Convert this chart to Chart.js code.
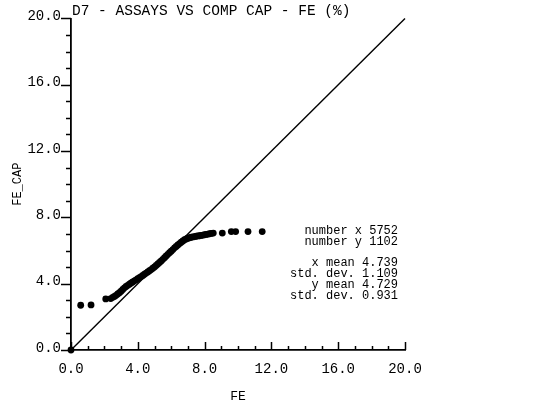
<!DOCTYPE html>
<html>
<head>
<meta charset="utf-8">
<script src="https://cdn.jsdelivr.net/npm/chart.js@4.4.0/dist/chart.umd.min.js"></script>
<style>
  html, body { margin: 0; padding: 0; background: #fff; }
  #wrap { width: 559px; height: 410px; }
</style>
</head>
<body>
<div id="wrap"><canvas id="chart" width="559" height="410"></canvas></div>
<script>
// ── Data ──────────────────────────────────────
const chartTitle = 'D7 - ASSAYS VS COMP CAP - FE (%)';
const xTitle = 'FE';
const yTitle = 'FE_CAP';

const feValues = [
  0, 0.58, 1.2, 2.08, 2.38, 2.5, 2.6, 2.7, 2.8, 2.9,
  3.0, 3.1, 3.2, 3.3, 3.4, 3.5, 3.6, 3.7, 3.8, 3.9,
  4.0, 4.1, 4.2, 4.3, 4.4, 4.5, 4.6, 4.7, 4.8, 4.9,
  5.0, 5.1, 5.2, 5.3, 5.4, 5.5, 5.6, 5.7, 5.8, 5.9,
  6.0, 6.1, 6.2, 6.3, 6.4, 6.5, 6.6, 6.7, 6.8, 6.9,
  7.0, 7.1, 7.2, 7.3, 7.4, 7.5, 7.6, 7.7, 7.8, 7.9,
  8.0, 8.1, 8.2, 8.3, 8.4, 8.52, 9.06, 9.6, 9.86, 10.6,
  11.45
];
const feCapValues = [
  0, 2.7, 2.72, 3.08, 3.10, 3.18, 3.23, 3.30, 3.38, 3.46,
  3.55, 3.65, 3.75, 3.83, 3.90, 3.97, 4.04, 4.10, 4.17, 4.23,
  4.30, 4.37, 4.43, 4.50, 4.57, 4.64, 4.71, 4.78, 4.85, 4.93,
  5.01, 5.10, 5.19, 5.28, 5.37, 5.47, 5.57, 5.67, 5.77, 5.87,
  5.96, 6.06, 6.16, 6.25, 6.34, 6.42, 6.50, 6.58, 6.65, 6.70,
  6.74, 6.77, 6.80, 6.82, 6.84, 6.86, 6.88, 6.89, 6.91, 6.93,
  6.95, 6.97, 6.99, 7.01, 7.03, 7.05, 7.05, 7.14, 7.14, 7.14,
  7.14
];

const diagonalX = [0, 20];
const diagonalY = [0, 20];

const axisMin = 0;
const axisMax = 20;
const minorStep = 1;
const majorStep = 4;

const statLines = [
  'number x 5752',
  'number y 1102',
  '',
  'x mean 4.739',
  'std. dev. 1.109',
  'y mean 4.729',
  'std. dev. 0.931'
];

// ── Fonts ─────────────────────────────────────
const MONO = '"Liberation Mono", "Courier New", monospace';

// ── Tick marks + texts drawn over the chart ──
const overlay = {
  id: 'overlay',
  afterDraw(chart) {
    const { ctx, chartArea, scales } = chart;
    const xs = scales.x;
    const ys = scales.y;

    ctx.save();
    ctx.strokeStyle = '#000';
    ctx.lineWidth = 1.5;

    // y ticks point outward (left)
    ys.ticks.forEach(t => {
      const y = Math.round(ys.getPixelForValue(t.value)) + 0.5;
      const len = t.value % majorStep === 0 ? 10 : 5;
      ctx.beginPath();
      ctx.moveTo(chartArea.left - len, y);
      ctx.lineTo(chartArea.left, y);
      ctx.stroke();
    });

    // x ticks point inward (up)
    xs.ticks.forEach(t => {
      const x = Math.round(xs.getPixelForValue(t.value)) + 0.5;
      const len = t.value % majorStep === 0 ? 8 : 4;
      ctx.beginPath();
      ctx.moveTo(x, chartArea.bottom);
      ctx.lineTo(x, chartArea.bottom - len);
      ctx.stroke();
    });

    // title
    ctx.fillStyle = '#000';
    ctx.font = '14.5px ' + MONO;
    ctx.textAlign = 'left';
    ctx.textBaseline = 'alphabetic';
    ctx.fillText(chartTitle, chartArea.left + 1, 15);

    // stats block
    ctx.font = '12px ' + MONO;
    ctx.textAlign = 'right';
    let y = 234;
    statLines.forEach(line => {
      if (line) ctx.fillText(line, 398, y);
      y += line ? 11 : 10;
    });

    ctx.restore();
  }
};

// ── Scale options ─────────────────────────────
function scaleOpts(axis) {
  const isY = axis === 'y';
  return {
    type: 'linear',
    min: axisMin,
    max: axisMax,
    grid: { display: false, drawTicks: false },
    border: { display: true, color: '#000', width: 1.8 },
    ticks: {
      stepSize: minorStep,
      autoSkip: false,
      maxRotation: 0,
      color: '#000',
      font: { family: MONO, size: 14 },
      padding: isY ? 10 : 11,
      labelOffset: isY ? -2 : 0,
      callback: v => (v % majorStep === 0 ? v.toFixed(1) : '')
    },
    title: {
      display: true,
      text: isY ? yTitle : xTitle,
      color: '#000',
      font: { family: MONO, size: isY ? 12 : 13 },
      padding: isY ? { top: 11, bottom: 0 } : { top: 0, bottom: 6 }
    },
    afterFit: s => {
      if (isY) s.width = 71;
      else s.height = 60;
    }
  };
}

new Chart(document.getElementById('chart'), {
  type: 'scatter',
  data: {
    datasets: [
      {
        label: 'diagonal',
        type: 'line',
        data: diagonalX.map((x, i) => ({ x, y: diagonalY[i] })),
        borderColor: '#000',
        borderWidth: 1.4,
        pointRadius: 0,
        fill: false,
        clip: false
      },
      {
        label: 'FE vs FE_CAP',
        data: feValues.map((x, i) => ({ x, y: feCapValues[i] })),
        backgroundColor: '#000',
        borderColor: '#000',
        borderWidth: 0,
        pointRadius: 3.4,
        clip: false
      }
    ]
  },
  options: {
    responsive: false,
    animation: false,
    devicePixelRatio: 1,
    layout: { padding: { left: 0, top: 16, right: 154, bottom: 0 } },
    plugins: {
      legend: { display: false },
      tooltip: { enabled: false }
    },
    scales: {
      x: scaleOpts('x'),
      y: scaleOpts('y')
    }
  },
  plugins: [overlay]
});
</script>
</body>
</html>
